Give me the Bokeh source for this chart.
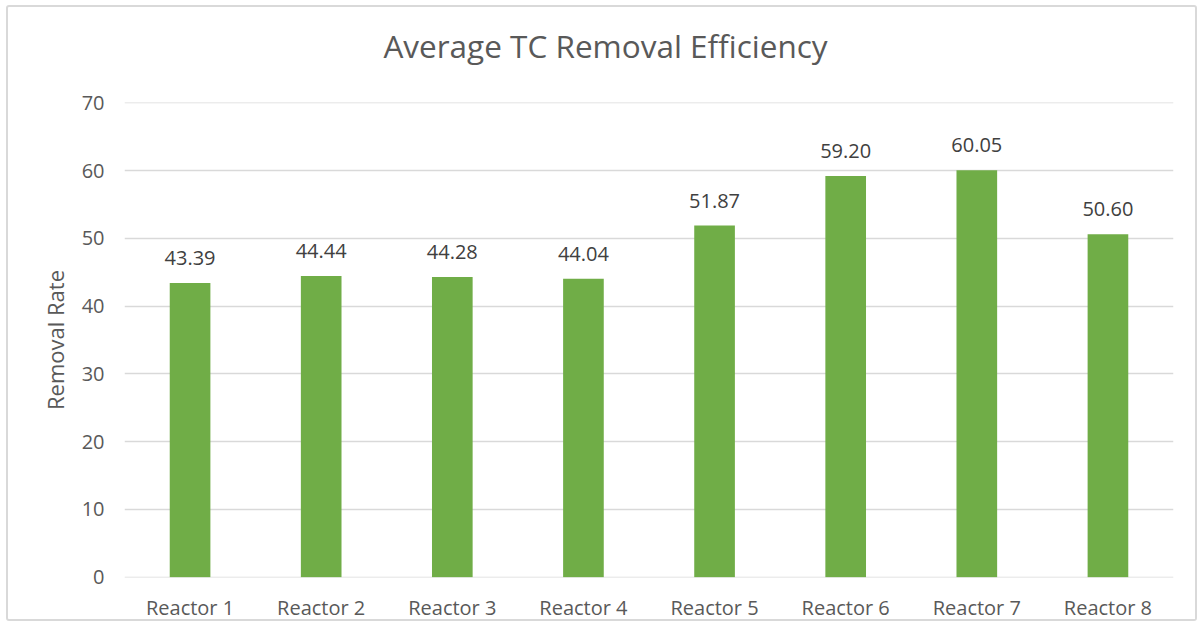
from bokeh.plotting import figure
from bokeh.models import ColumnDataSource, LabelSet, Label, FixedTicker
from bokeh.core.properties import value
from bokeh.embed import file_html
from bokeh.resources import INLINE

categories = ["Reactor 1", "Reactor 2", "Reactor 3", "Reactor 4",
              "Reactor 5", "Reactor 6", "Reactor 7", "Reactor 8"]
removal = [43.39, 44.44, 44.28, 44.04, 51.87, 59.20, 60.05, 50.60]
y_ticks = [0, 10, 20, 30, 40, 50, 60, 70]
title_text = "Average TC Removal Efficiency"
y_label = "Removal Rate"

FONT = "Open Sans"
TXT = "#595959"

src = ColumnDataSource(dict(cat=categories, val=removal,
                            lab=[f"{v:.2f}" for v in removal]))

W, H = 1191, 616
p = figure(x_range=categories, y_range=(-0.03, 70.03), width=W, height=H,
           output_backend="svg", toolbar_location=None,
           min_border_left=116, min_border_right=26,
           min_border_top=95, min_border_bottom=45)
p.styles = {"border": "2px solid #d9d9d9", "border-radius": "3px",
            "margin-left": "6px", "margin-top": "5px"}
p.outline_line_color = None
p.background_fill_color = "white"
p.border_fill_color = "white"

p.vbar(x="cat", top="val", width=0.31, source=src, color="#70AD47", line_color=None)

p.xgrid.grid_line_color = None
p.ygrid.grid_line_color = "#d9d9d9"
p.ygrid.grid_line_width = 1.5
p.yaxis.ticker = FixedTicker(ticks=y_ticks)

for ax in (p.xaxis, p.yaxis):
    ax.axis_line_color = None
    ax.major_tick_line_color = None
    ax.minor_tick_line_color = None
    ax.major_tick_out = 0
    ax.major_tick_in = 0
    ax.minor_tick_out = 0
    ax.major_label_text_font = FONT
    ax.major_label_text_color = TXT
    ax.major_label_text_font_size = "20px"

p.xaxis.major_label_standoff = 16
p.yaxis.major_label_standoff = 20
p.yaxis.axis_label = y_label
p.yaxis.axis_label_text_font = FONT
p.yaxis.axis_label_text_font_style = "normal"
p.yaxis.axis_label_text_color = TXT
p.yaxis.axis_label_text_font_size = "22px"
p.yaxis.axis_label_standoff = 9

labels = LabelSet(x="cat", y="val", text="lab", source=src, text_align="center",
                  text_baseline="middle", y_offset=25, text_font=value(FONT),
                  text_font_size="20px", text_color="#404040")
p.add_layout(labels)

# chart title, placed in the panel above the plot frame
p.add_layout(Label(x=481, y=57, x_units="screen", y_units="screen",
                   text=title_text, text_align="center", text_baseline="alphabetic",
                   text_font=FONT, text_font_size="31.5px", text_color=TXT), "above")

open("out.html", "w").write(file_html(p, INLINE))
